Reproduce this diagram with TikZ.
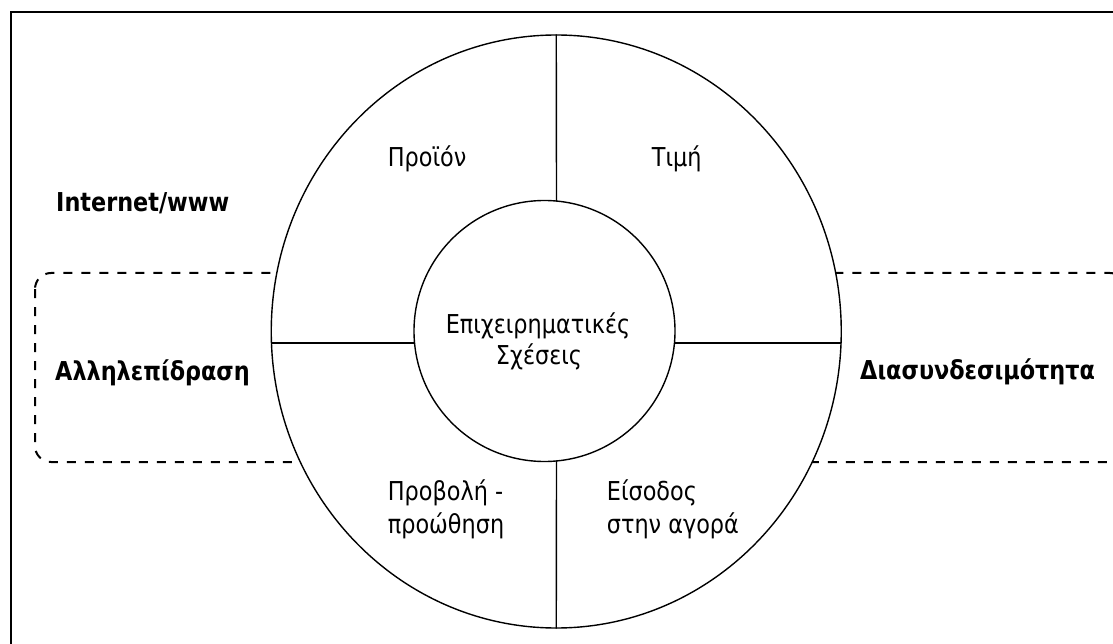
\documentclass[tikz,border=0pt]{standalone}
\usepackage{fontspec}
\setmainfont{DejaVu Sans}[FakeStretch=0.86]
\usetikzlibrary{shapes.geometric}
\begin{document}
\begin{tikzpicture}[x=1pt,y=-1pt,
  lbl/.style={anchor=base west, inner sep=0pt, font=\fontsize{26}{32}\selectfont},
  clbl/.style={lbl, anchor=base},
  bold/.style={lbl, font=\fontsize{26}{32}\selectfont\bfseries},
  dashbox/.style={draw, line width=2pt, dash pattern=on 9pt off 9pt, rounded corners=16pt},
  rim/.style={line width=1.4pt}]
\useasboundingbox (0,0) rectangle (1113,644);
\clip (0,0) rectangle (1113,644);
\fill[white] (0,0) rectangle (1113,644);
% frame (open to the right and bottom)
\draw[line width=1.7pt] (1125,12) -- (11,12) -- (11,660);
% dashed bands behind the wheel
\draw[dashbox] (35,273) rectangle (360,462);
\draw[dashbox] (760,273) rectangle (1126,462);
% the wheel
\node (outer) [draw, rim, ellipse, fill=white, inner sep=0pt,
  minimum width=570pt, minimum height=593pt] at (556.25,331.5) {};
\node (hub) [draw, rim, circle, fill=white, inner sep=0pt,
  minimum size=261pt] at (544.5,331) {};
% spokes
\coordinate (hubN) at (556.5,201.1);
\coordinate (hubS) at (556.5,460.9);
\coordinate (hubW) at (414.5,343);
\coordinate (hubE) at (674.5,343);
\coordinate (outW) at (271.7,343);
\coordinate (outE) at (840.8,343);
\draw[rim] (outer.north) -- (hubN);
\draw[rim] (hubS) -- (outer.south);
\draw[rim] (outW) -- (hubW);
\draw[rim] (hubE) -- (outE);
% labels
\node (prod) [lbl] at (387.7,166.7) {Προϊόν};
\node (price) [lbl] at (651.7,166.7) {Τιμή};
\node (core1) [clbl] at (538,333.3) {Επιχειρηματικές};
\node (core2) [clbl] at (539,364) {Σχέσεις};
\node (promo1) [lbl] at (387.7,500.7) {Προβολή -};
\node (promo2) [lbl] at (387.7,533.3) {προώθηση};
\node (entry1) [lbl] at (606.7,500.7) {Είσοδος};
\node (entry2) [lbl] at (606.7,533.3) {στην αγορά};
\node (web) [bold] at (56,211.7) {Internet/www};
\node (inter) [bold] at (55,380) {Αλληλεπίδραση};
\node (conn) [bold] at (860,379.3) {Διασυνδεσιμότητα};
\end{tikzpicture}
\end{document}
